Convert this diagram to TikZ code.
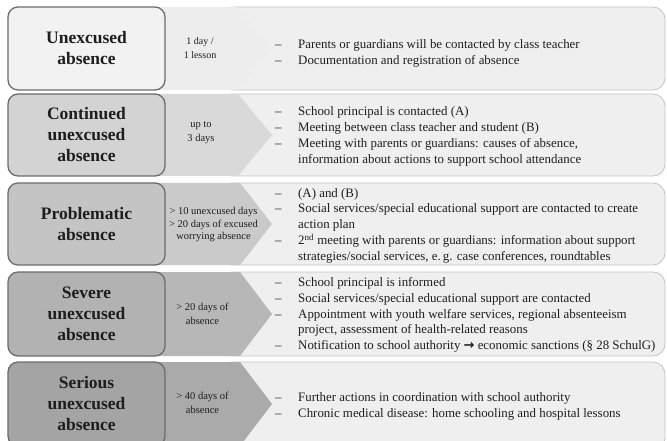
\documentclass[tikz,border=0pt]{standalone}
\usepackage{fontspec}
\setmainfont{Liberation Serif}
\newfontfamily\arrowfont{DejaVu Sans}
\definecolor{boxline}{HTML}{6C6C6C}
\definecolor{panelline}{HTML}{C4C4C4}
\definecolor{panelfill}{HTML}{EFEFEF}
\definecolor{textc}{HTML}{1E1E1E}
\definecolor{boxA}{HTML}{F2F2F2}
\definecolor{boxB}{HTML}{D3D3D3}
\definecolor{boxC}{HTML}{C4C4C4}
\definecolor{boxD}{HTML}{B2B2B2}
\definecolor{boxE}{HTML}{A4A4A4}
\definecolor{chvA}{HTML}{EDEDED}
\definecolor{chvB}{HTML}{D9D9D9}
\definecolor{chvC}{HTML}{CACACA}
\definecolor{chvD}{HTML}{B7B7B7}
\definecolor{chvE}{HTML}{AAAAAA}
\newcommand{\dl}{\textendash&}
\newcommand{\lst}[1]{{\fontsize{12.9}{15.8}\selectfont\begin{tabular}{@{}p{23pt}@{}l@{}}#1\end{tabular}}}
\begin{document}
\begin{tikzpicture}[x=1pt,y=-1pt,
  levelbox/.style={draw=boxline, line width=1.3pt, rounded corners=10pt,
    minimum width=157pt, align=center, text=textc,
    font=\fontsize{17.5}{21}\selectfont\bfseries},
  panelbox/.style={draw=panelline, fill=panelfill, line width=0.8pt, rounded corners=12pt},
  rangetext/.style={align=center, text=textc, inner sep=0pt,
    font=\fontsize{10.5}{13.5}\selectfont},
  listtext/.style={anchor=west, inner sep=0pt, text=textc}]
\useasboundingbox (0,0) rectangle (667,441);
\clip (0,0) rectangle (667,441);
% panels
\draw[panelbox] (220,7) rectangle (665,90);
\draw[panelbox] (220,94) rectangle (665,176);
\draw[panelbox] (220,183) rectangle (665,265);
\draw[panelbox] (220,272) rectangle (665,356);
\draw[panelbox] (220,362) rectangle (665,450);
% chevrons
\fill[chvA] (150,7) -- (236,7) -- (272,48.5) -- (236,90) -- (150,90) -- cycle;
\fill[chvB] (150,94) -- (238,94) -- (272,135) -- (238,176) -- (150,176) -- cycle;
\fill[chvC] (150,183) -- (240,183) -- (272,224) -- (240,265) -- (150,265) -- cycle;
\fill[chvD] (150,272) -- (240,272) -- (272,314) -- (240,356) -- (150,356) -- cycle;
\fill[chvE] (150,362) -- (240,362) -- (272,404) -- (240,446) -- (150,446) -- cycle;
% level boxes
\node[levelbox, fill=boxA, minimum height=83pt] (b1) at (86.5,48.5) {Unexcused\\absence};
\node[levelbox, fill=boxB, minimum height=82pt] (b2) at (86.5,135) {Continued\\unexcused\\absence};
\node[levelbox, fill=boxC, minimum height=82pt] (b3) at (86.5,224) {Problematic\\absence};
\node[levelbox, fill=boxD, minimum height=84pt] (b4) at (86.5,314) {Severe\\unexcused\\absence};
\node[levelbox, fill=boxE, minimum height=84pt] (b5) at (86.5,404) {Serious\\unexcused\\absence};
% ranges
\node[rangetext, font=\fontsize{10}{14}\selectfont] (r1) at (200,48) {1 day /\\1 lesson};
\node[rangetext, font=\fontsize{10.5}{14}\selectfont] (r2) at (201,132.5) {up to\\3 days};
\node[rangetext, font=\fontsize{10.5}{12.5}\selectfont] (r3) at (213.5,224.5) {> 10 unexcused days\\> 20 days of excused\\worrying absence};
\node[rangetext, font=\fontsize{10.5}{14.5}\selectfont] (r4) at (202.5,314) {> 20 days of\\absence};
\node[rangetext, font=\fontsize{10.5}{14.5}\selectfont] (r5) at (202.5,403) {> 40 days of\\absence};
% actions
\node[listtext] (t1) at (275,53) {\lst{\dl Parents or guardians will be contacted by class teacher\\
\dl Documentation and registration of absence}};
\node[listtext] (t2) at (275,136.5) {\lst{\dl School principal is contacted (A)\\
\dl Meeting between class teacher and student (B)\\
\dl Meeting with parents or guardians: causes of absence,\\
& information about actions to support school attendance}};
\node[listtext] (t3) at (275,225.5) {\lst{\dl (A) and (B)\\
\dl Social services/special educational support are contacted to create\\
& action plan\\
\dl 2\textsuperscript{nd} meeting with parents or guardians: information about support\\
& strategies/social services, e.\,g. case conferences, roundtables}};
\node[listtext] (t4) at (275,315) {\lst{\dl School principal is informed\\
\dl Social services/special educational support are contacted\\
\dl Appointment with youth welfare services, regional absenteeism\\
& project, assessment of health-related reasons\\
\dl Notification to school authority {\arrowfont\bfseries →} economic sanctions (§ 28 SchulG)}};
\node[listtext] (t5) at (275,406) {\lst{\dl Further actions in coordination with school authority\\
\dl Chronic medical disease: home schooling and hospital lessons}};
\end{tikzpicture}
\end{document}
